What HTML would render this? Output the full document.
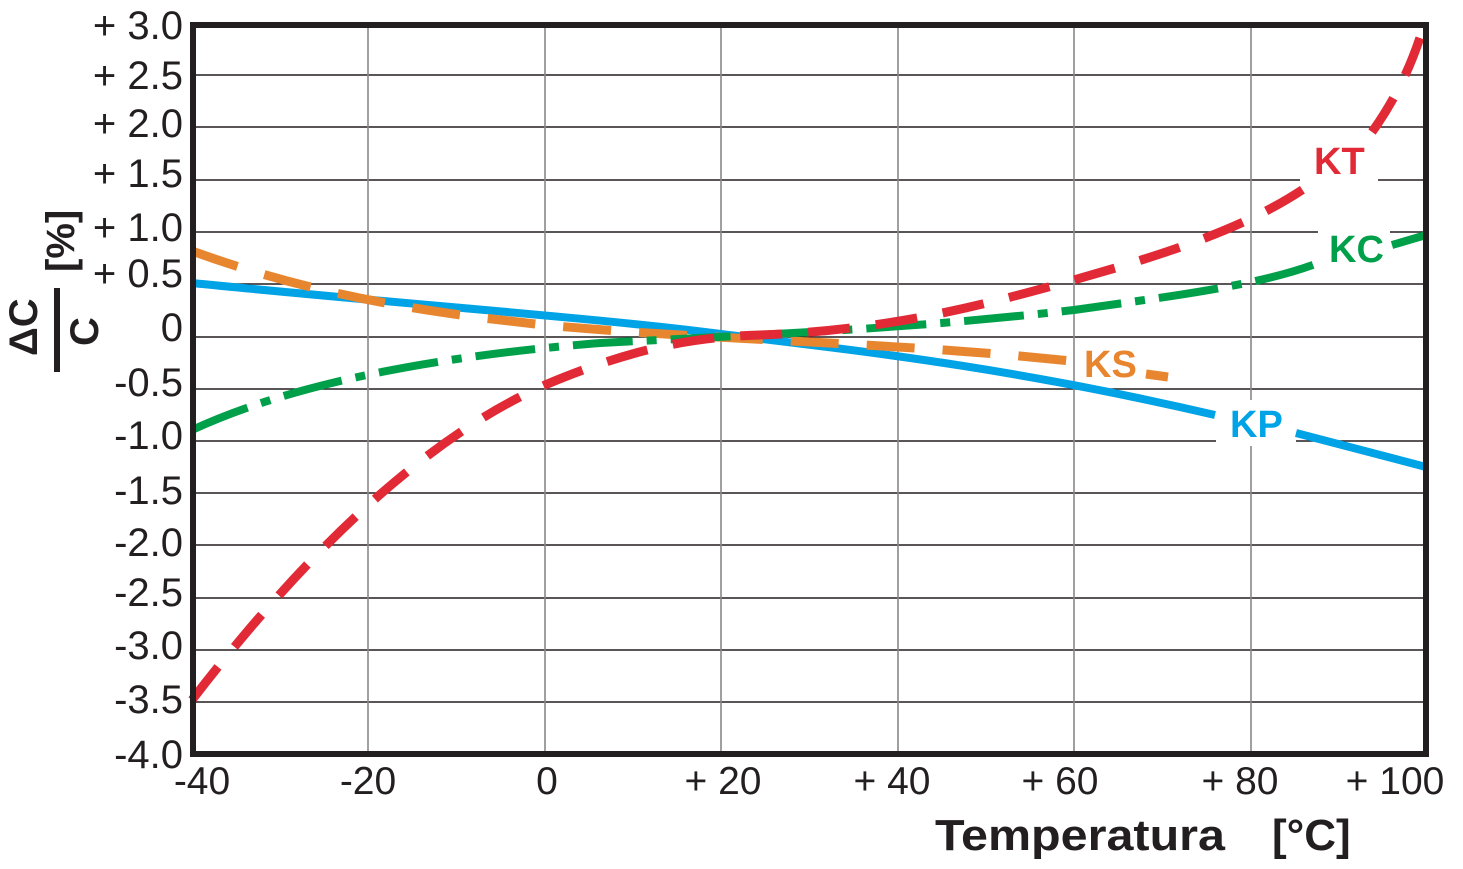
<!DOCTYPE html>
<html><head><meta charset="utf-8"><style>html,body{margin:0;padding:0;background:#fff}svg{display:block}</style></head><body>
<svg width="1463" height="869" viewBox="0 0 1463 869" xmlns="http://www.w3.org/2000/svg" font-family="Liberation Sans, sans-serif">
<rect width="1463" height="869" fill="#fff"/>
<g stroke="#231f20" stroke-width="1.6">
<line x1="192" y1="75" x2="1426" y2="75"/><line x1="192" y1="127" x2="1426" y2="127"/>
<line x1="192" y1="180" x2="1426" y2="180"/><line x1="192" y1="232" x2="1426" y2="232"/>
<line x1="192" y1="284" x2="1426" y2="284"/><line x1="192" y1="337" x2="1426" y2="337"/>
<line x1="192" y1="389" x2="1426" y2="389"/><line x1="192" y1="441" x2="1426" y2="441"/>
<line x1="192" y1="493" x2="1426" y2="493"/><line x1="192" y1="545" x2="1426" y2="545"/>
<line x1="192" y1="598" x2="1426" y2="598"/><line x1="192" y1="650" x2="1426" y2="650"/>
<line x1="192" y1="702" x2="1426" y2="702"/>
</g>
<g stroke="#888" stroke-width="1.6">
<line x1="368" y1="24" x2="368" y2="754"/><line x1="545" y1="24" x2="545" y2="754"/>
<line x1="721" y1="24" x2="721" y2="754"/><line x1="898" y1="24" x2="898" y2="754"/>
<line x1="1074" y1="24" x2="1074" y2="754"/><line x1="1251" y1="24" x2="1251" y2="754"/>
</g>
<g fill="#fff">
<rect x="1300" y="130" width="78" height="52"/>
<rect x="1318" y="225" width="72" height="44"/>
<rect x="1082" y="342" width="62" height="40"/>
<rect x="1216" y="400" width="80" height="46"/>
</g>
<g fill="none" stroke-linejoin="round">
<path stroke="#00a3e6" stroke-width="8" d="M192,283 C400,304 600,318 721,334 C850,350 1000,365 1215,415"/>
<polyline stroke="#00a3e6" stroke-width="8" points="1296,433 1426,467"/>
<path stroke="#e8862f" stroke-width="9" stroke-dasharray="48,28" d="M192,251 C300,290 400,310 545,325 C700,340 900,342 1080,362"/>
<polyline stroke="#e8862f" stroke-width="9" points="1146,374 1168,377"/>
<path stroke="#00a04a" stroke-width="8" stroke-dasharray="60,14,10,14" d="M192,430 C300,380 450,355 600,343 C750,335 900,330 1074,310 C1180,295 1260,285 1318,263"/>
<polyline stroke="#00a04a" stroke-width="8" points="1392,245 1426,235"/>
<path stroke="#e12a36" stroke-width="9" stroke-dasharray="42,26" d="M192,700 C300,560 420,440 545,385 C640,345 700,337 760,335 C900,330 1000,300 1074,280 C1180,250 1250,225 1305,188"/>
<path stroke="#e12a36" stroke-width="9" stroke-dasharray="40,26" d="M1372,132 C1395,100 1412,65 1424,25"/>
</g>
<rect x="193" y="25" width="1233" height="729" fill="none" stroke="#231f20" stroke-width="6"/>
<g font-weight="bold" font-size="38">
<text x="1314" y="174" fill="#e12a36">KT</text>
<text x="1329" y="262" fill="#00a04a">KC</text>
<text x="1084" y="377" fill="#e8862f">KS</text>
<text x="1230" y="437" fill="#00a3e6">KP</text>
</g>
<g font-size="40" fill="#231f20" text-anchor="end">
<text x="183" y="39">+ 3.0</text><text x="183" y="89">+ 2.5</text>
<text x="183" y="137">+ 2.0</text><text x="183" y="187">+ 1.5</text>
<text x="183" y="241">+ 1.0</text><text x="183" y="287">+ 0.5</text>
<text x="183" y="341">0</text><text x="183" y="396">-0.5</text>
<text x="183" y="449">-1.0</text><text x="183" y="504">-1.5</text>
<text x="183" y="556">-2.0</text><text x="183" y="606">-2.5</text>
<text x="183" y="659">-3.0</text><text x="183" y="713">-3.5</text>
<text x="183" y="768">-4.0</text>
</g>
<g font-size="39" fill="#231f20" text-anchor="middle">
<text x="202" y="794">-40</text><text x="368" y="794">-20</text>
<text x="547" y="794">0</text><text x="723" y="794">+ 20</text>
<text x="892" y="794">+ 40</text><text x="1060" y="794">+ 60</text>
<text x="1240" y="794">+ 80</text><text x="1395" y="794">+ 100</text>
</g>
<text x="935" y="850" font-size="44" font-weight="bold" fill="#231f20" textLength="290" lengthAdjust="spacingAndGlyphs">Temperatura</text>
<text x="1272" y="850" font-size="44" font-weight="bold" fill="#231f20">[°C]</text>
<g fill="#231f20" font-size="40" font-weight="bold">
<text transform="translate(37,356) rotate(-90)">ΔC</text>
<text transform="translate(98,346) rotate(-90)">C</text>
<text transform="translate(74,272) rotate(-90)">[%]</text>
</g>
<rect x="54" y="288" width="6" height="84" fill="#231f20"/>
</svg>
</body></html>
